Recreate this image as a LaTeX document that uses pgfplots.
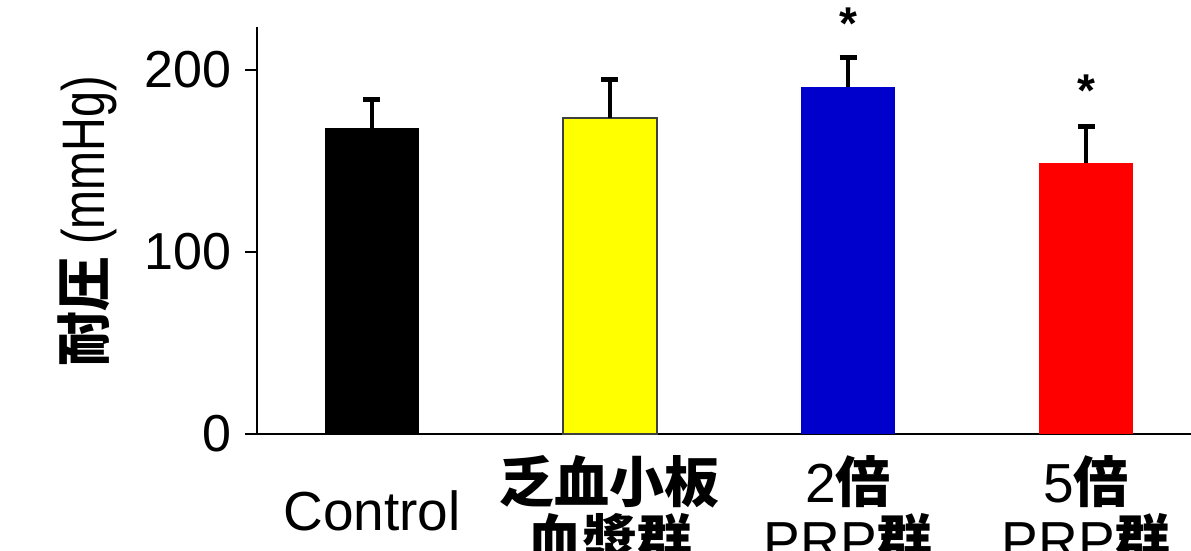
\documentclass[border=0pt]{standalone}
\usepackage{fontspec}
\setmainfont{Liberation Sans}
\newfontfamily\narrowsans{Liberation Sans}[FakeStretch=0.78]
\newfontfamily\cjk{Noto Sans CJK JP}[BoldFont=* Black]
\usepackage{pgfplots}
\pgfplotsset{compat=1.18}
\newcommand{\cb}[1]{{\cjk\bfseries #1}}
\definecolor{barblue}{HTML}{0000CC}
\definecolor{barred}{HTML}{FF0000}
\definecolor{baryellow}{HTML}{FFFF00}
\pgfplotsset{
  errstyle/.style={error bars/.cd, y dir=plus, y explicit,
    error bar style={line width=2pt, black},
    error mark options={rotate=90, line width=2.5pt, mark size=4.25pt, black}}
}
\begin{document}
\begin{tikzpicture}
\begin{axis}[
  at={(0,0)}, anchor=south west,
  scale only axis, width=467pt, height=203.5pt,
  xmin=-0.483, xmax=3.441, ymin=0, ymax=223.6,
  axis x line*=bottom, axis y line*=left,
  axis line style={line width=1.3pt, black},
  ytick={0,100,200},
  xtick={0,1,2,3},
  xticklabels={Control, {\cb{乏血小板}\\\cb{血漿群}}, {2\cb{倍}\\PRP\cb{群}}, {5\cb{倍}\\PRP\cb{群}}},
  x tick style={draw=none},
  y tick style={line width=1.3pt, black},
  tick align=outside, major tick length=6pt,
  /pgf/number format/assume math mode=true,
  yticklabel style={font=\fontsize{26}{26}\selectfont, inner sep=0pt, xshift=-6.5pt},
  xticklabel style={font=\fontsize{27.5}{29}\selectfont, align=center, anchor=center, inner sep=0pt, yshift=-32.5pt},
  ylabel={{\fontsize{27.5}{28}\selectfont\cb{耐圧}}\hspace{6pt}{\narrowsans (mmHg)}},
  ylabel style={font=\fontsize{30}{30}\selectfont, at={(axis description cs:-0.182,0.523)}, anchor=center},
  clip=false,
]
\addplot[ybar, bar shift=0pt, bar width=47pt, fill=black, draw=none, errstyle] coordinates {(0,168.1) +- (0,15.9)};
\addplot[ybar, bar shift=0pt, bar width=47pt, fill=baryellow, draw=black!75, line width=0.6pt, errstyle] coordinates {(1,173.6) +- (0,20.9)};
\addplot[ybar, bar shift=0pt, bar width=47pt, fill=barblue, draw=none, errstyle] coordinates {(2,190.7) +- (0,16.4)};
\addplot[ybar, bar shift=0pt, bar width=47pt, fill=barred, draw=none, errstyle] coordinates {(3,148.9) +- (0,19.8)};
\node[font=\fontsize{23}{23}\selectfont\bfseries, inner sep=0pt, anchor=north] at (axis cs:2,234.6) {*};
\node[font=\fontsize{23}{23}\selectfont\bfseries, inner sep=0pt, anchor=north] at (axis cs:3,197.3) {*};
\end{axis}
\pgfresetboundingbox
\useasboundingbox (-128.5pt,-58.5pt) rectangle (467pt,217pt);
\end{tikzpicture}
\end{document}
